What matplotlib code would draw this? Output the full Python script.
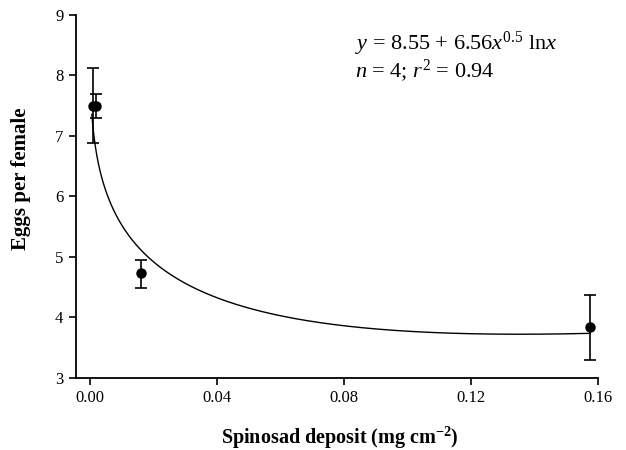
import numpy as np
import matplotlib
matplotlib.use('Agg')
import matplotlib.pyplot as plt

plt.rcParams['font.family'] = 'Liberation Serif'
plt.rcParams['mathtext.fontset'] = 'custom'
plt.rcParams['mathtext.rm'] = 'Liberation Serif'
plt.rcParams['mathtext.it'] = 'Liberation Serif:italic'
plt.rcParams['mathtext.bf'] = 'Liberation Serif:bold'

# data
deposit = [0.00085, 0.0019, 0.016, 0.1575]
eggs = [7.5, 7.5, 4.73, 3.85]
err_up = [8.12, 7.69, 4.95, 4.38]
err_lo = [6.89, 7.30, 4.48, 3.30]

# fitted model y = a + b x^0.5 ln x
a = 8.55
b = 6.56
curve_start = 0.0006
curve_end = 0.1575

xticks = [0.00, 0.04, 0.08, 0.12, 0.16]
yticks = [3, 4, 5, 6, 7, 8, 9]

fig = plt.figure(figsize=(6.26, 4.5), dpi=100)
ax = fig.add_axes([0.1214, 0.16, 0.955 - 0.1214, 0.9667 - 0.16])

xc = np.linspace(curve_start, curve_end, 600)
yc = a + b * np.sqrt(xc) * np.log(xc)
ax.plot(xc, yc, color='black', lw=1.0)

yerr = [np.array(eggs) - np.array(err_lo), np.array(err_up) - np.array(eggs)]
ax.errorbar(deposit, eggs, yerr=yerr, fmt='o', color='black', ms=6.5,
            ecolor='black', elinewidth=1.2, capsize=4, capthick=1.2)

ax.set_xlim(-0.0044, 0.16)
ax.set_ylim(3, 9)
ax.set_xticks(xticks)
ax.set_xticklabels(['%.2f' % t for t in xticks])
ax.set_yticks(yticks)

for s in ['top', 'right']:
    ax.spines[s].set_visible(False)
for s in ['left', 'bottom']:
    ax.spines[s].set_linewidth(1.3)
ax.tick_params(direction='out', length=5, width=1.2, labelsize=12, pad=4)

ax.set_xlabel(r'Spinosad deposit (mg cm$^{\mathbf{-2}}$)', fontsize=14.5, fontweight='bold')
ax.set_ylabel('Eggs per female', fontsize=15, fontweight='bold')
ax.xaxis.set_label_coords(0.505, -0.13)
ax.yaxis.set_label_coords(-0.087, 0.55)

ax.text(0.535, 0.96, r'$y$ = 8.55 + 6.56$x^{0.5}$ ln$x$', transform=ax.transAxes,
        fontsize=16, va='top', ha='left')
ax.text(0.535, 0.885, r'$n$ = 4; $r^{2}$ = 0.94', transform=ax.transAxes,
        fontsize=16, va='top', ha='left')

fig.savefig('out.png', dpi=100)
